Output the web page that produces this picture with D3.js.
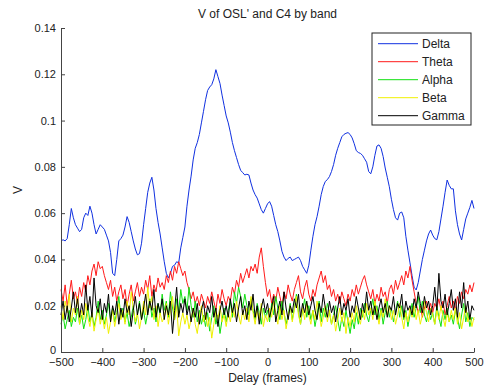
<!DOCTYPE html>
<html>
<head>
<meta charset="utf-8">
<script src="https://cdn.jsdelivr.net/npm/d3@7"></script>
<style>
  body { margin: 0; background: #fff; }
  text { font-family: "Liberation Sans", Arial, sans-serif; fill: #222; }
</style>
</head>
<body>
<svg id="chart"></svg>
<script>
// delay axis, one sample every 5 frames
const delays = d3.range(-500, 501, 5);

// values in thousandths of V
const deltaMilli = [
  48, 48.5, 48, 49, 55, 62, 58, 55, 53.5, 52,
  53, 58, 60, 59, 63, 60, 55, 51, 53, 55,
  54, 53, 50.5, 48, 43, 34, 33, 40, 48, 49,
  50.5, 54, 58.5, 56, 52, 48, 44.5, 42, 42.5, 47,
  55, 62, 69, 73, 75.5, 70, 62, 56, 51, 45,
  39, 34, 32, 34, 37, 37.5, 39, 38.5, 45, 49.5,
  54, 63, 70, 76, 83, 88, 90.5, 94, 99, 104,
  109, 113, 114.5, 115.5, 118, 122, 119, 116, 111, 106.5,
  102, 99, 95, 90.5, 87, 84, 81, 78.5, 77.5, 76.5,
  76.8, 76.5, 73, 70, 68, 66.5, 64, 61.5, 60, 62,
  64, 65, 63, 59, 55, 52, 48, 43.5, 41, 39.5,
  40.5, 41, 39.5, 40, 40.5, 41, 39.5, 37, 35.5, 34,
  37.5, 44, 50, 55, 58.5, 63, 68, 71.5, 73.7, 74.5,
  75.8, 78, 81, 85, 88, 90.5, 93, 94, 94.5, 94.8,
  94, 92.5, 90, 87, 86.2, 85.8, 85, 83.5, 82, 78,
  77, 80, 85, 89, 89.5, 88, 84.5, 79.5, 75.5, 71.4,
  66, 61.5, 58, 57, 60, 60.5, 58, 50, 44, 38.5,
  33, 28, 26.8, 30, 35, 40, 44, 48, 51, 52.7,
  50.5, 49, 48.5, 52, 57.5, 63, 69, 74.3, 72, 70.5,
  70.5, 61, 55, 51, 48.4, 53, 57.5, 60, 62.5, 65.5,
  62
];
const thetaMilli = [
  27, 22, 29, 20, 25, 31, 23, 26, 21, 28,
  24, 30, 26, 33, 29, 35, 38, 33, 39, 36,
  37, 33, 30, 27, 31, 24, 28, 22, 26, 29,
  23, 27, 20, 25, 29, 22, 26, 30, 24, 28,
  25, 31, 27, 33, 24, 29, 26, 32, 28, 30,
  27, 33, 30, 35, 31, 37, 34, 39, 36, 33,
  35, 30, 27, 23, 26, 21, 24, 20, 25, 22,
  19, 24, 21, 26, 22, 18, 25, 21, 27, 23,
  20, 24, 22, 28, 25, 31, 28, 34, 30, 33,
  36, 32, 37, 35, 38, 34, 41, 45, 37, 30,
  24, 27, 21, 25, 22, 28, 24, 20, 26, 23,
  29, 25, 22, 27, 30, 33, 26, 23, 28, 31,
  25, 22, 27, 24, 29, 32, 35, 30, 33, 27,
  29, 24, 27, 22, 25, 21, 26, 23, 20, 25,
  22, 27, 24, 29, 25, 28, 31, 33, 29, 26,
  23, 27, 21, 25, 22, 28, 24, 26, 21, 27,
  29, 25, 31, 27, 30, 33, 29, 35, 32, 37,
  31, 26, 21, 17, 20, 15, 19, 22, 18, 21,
  17, 21, 19, 23, 18, 22, 16, 20, 24, 19,
  22, 18, 24, 21, 26, 23, 27, 25, 29, 26,
  30
];
const alphaMilli = [
  12, 16, 10, 14, 18, 11, 15, 13, 19, 12,
  16, 10, 14, 20, 13, 17, 11, 15, 22, 14,
  18, 12, 16, 21, 14, 19, 13, 17, 24, 15,
  19, 13, 17, 11, 15, 20, 12, 16, 22, 14,
  18, 12, 17, 23, 15, 19, 13, 21, 16, 25,
  18, 22, 15, 26, 19, 14, 23, 17, 27, 21,
  24, 18, 28, 20, 15, 22, 13, 18, 12, 16,
  11, 17, 9, 15, 20, 12, 16, 8, 14, 19,
  13, 18, 22, 15, 26, 21, 28, 24, 19, 25,
  20, 16, 23, 18, 14, 21, 17, 12, 19, 15,
  18, 13, 21, 16, 24, 19, 14, 22, 17, 12,
  16, 21, 14, 19, 25, 17, 12, 18, 23, 15,
  20, 14, 18, 11, 16, 22, 13, 19, 15, 21,
  17, 12, 16, 20, 14, 9, 15, 11, 18, 13,
  8, 14, 10, 17, 12, 19, 15, 21, 16, 13,
  18, 23, 16, 20, 14, 19, 12, 17, 22, 15,
  19, 13, 17, 22, 15, 20, 14, 18, 11, 16,
  21, 15, 19, 24, 17, 22, 16, 13, 18, 14,
  17, 12, 20, 15, 11, 18, 14, 19, 13, 16,
  12, 18, 15, 10, 16, 21, 13, 17, 11, 15,
  14
];
const betaMilli = [
  20, 14, 22, 17, 25, 13, 19, 16, 24, 12,
  18, 14, 21, 15, 11, 17, 9, 14, 19, 12,
  16, 10, 15, 8, 13, 18, 11, 16, 21, 14,
  18, 12, 22, 16, 26, 19, 13, 17, 10, 15,
  22, 16, 28, 19, 24, 14, 20, 11, 17, 13,
  15, 21, 12, 18, 24, 14, 20, 7, 13, 17,
  12, 16, 10, 14, 19, 12, 8, 15, 20, 13,
  17, 11, 15, 6, 12, 18, 14, 20, 13, 16,
  11, 17, 13, 19, 15, 22, 16, 12, 18, 14,
  19, 13, 24, 17, 12, 18, 14, 21, 11, 16,
  13, 19, 15, 22, 17, 12, 20, 14, 18, 10,
  15, 20, 13, 18, 24, 16, 12, 19, 14, 21,
  16, 12, 18, 14, 22, 17, 11, 15, 20, 13,
  18, 12, 16, 9, 14, 19, 13, 17, 8, 15,
  11, 17, 13, 20, 15, 12, 18, 14, 21, 16,
  19, 14, 22, 17, 12, 18, 15, 23, 16, 20,
  14, 18, 12, 16, 21, 15, 10, 17, 13, 19,
  15, 20, 14, 18, 12, 16, 22, 17, 13, 19,
  16, 12, 18, 14, 20, 15, 11, 17, 13, 18,
  14, 19, 12, 17, 10, 15, 20, 13, 16, 11,
  15
];
const gammaMilli = [
  16, 22, 14, 20, 13, 19, 26, 17, 23, 15,
  21, 16, 29, 18, 24, 15, 32, 20, 17, 23,
  14, 21, 17, 25, 13, 20, 16, 22, 12, 19,
  15, 23, 17, 20, 11, 18, 24, 16, 21, 14,
  19, 25, 16, 22, 18, 27, 15, 21, 17, 23,
  14, 20, 16, 22, 8, 18, 28, 15, 21, 17,
  23, 16, 20, 13, 19, 15, 21, 12, 18, 22,
  14, 20, 17, 24, 15, 19, 11, 18, 22, 16,
  20, 15, 23, 17, 21, 13, 19, 24, 16, 20,
  14, 22, 18, 25, 15, 20, 12, 19, 23, 17,
  21, 15, 19, 24, 13, 18, 22, 16, 26, 19,
  14, 20, 17, 23, 19, 25, 15, 21, 17, 22,
  16, 20, 24, 18, 14, 21, 17, 25, 19, 15,
  22, 17, 20, 13, 19, 24, 16, 21, 18, 23,
  15, 20, 17, 24, 19, 14, 21, 17, 26, 18,
  22, 16, 20, 14, 19, 23, 17, 21, 15, 20,
  18, 24, 16, 21, 19, 25, 15, 22, 18, 20,
  16, 23, 19, 26, 21, 17, 24, 19, 22, 16,
  20, 28, 18, 34, 22, 19, 25, 16, 21, 27,
  18, 23, 15, 26, 19, 30, 17, 22, 14, 20,
  18
];

const bandNames = ['Delta', 'Theta', 'Alpha', 'Beta', 'Gamma'];
const bandColors = ['#1030e0', '#ff1a1a', '#10e010', '#f0f000', '#000000'];
const bandValues = [deltaMilli, thetaMilli, alphaMilli, betaMilli, gammaMilli];

const xTicks = d3.range(-500, 501, 100);
const yTicks = [0, 0.02, 0.04, 0.06, 0.08, 0.1, 0.12, 0.14];

const W = 487, H = 385;
const margin = { top: 28, right: 13, bottom: 33, left: 61 };
const width = W - margin.left - margin.right;
const height = H - margin.top - margin.bottom;

const svg = d3.select('#chart').attr('width', W).attr('height', H);
const g = svg.append('g').attr('transform', `translate(${margin.left},${margin.top})`);

const x = d3.scaleLinear().domain([-500, 500]).range([0, width]);
const y = d3.scaleLinear().domain([0, 0.14]).range([height, 0]);

// series, drawn in plot order so gamma ends on top
const line = d3.line().x(d => x(d[0])).y(d => y(d[1]));
bandValues.forEach((vals, i) => {
  g.append('path')
    .datum(delays.map((d, j) => [d, vals[j] / 1000]))
    .attr('fill', 'none')
    .attr('stroke', bandColors[i])
    .attr('stroke-width', 1)
    .attr('d', line);
});

// axes, ticks point inwards like matlab
const xAxis = g.append('g')
  .attr('transform', `translate(0,${height})`)
  .call(d3.axisBottom(x).tickValues(xTicks).tickSizeInner(-4).tickSizeOuter(0).tickPadding(6));
const yAxis = g.append('g')
  .call(d3.axisLeft(y).tickValues(yTicks).tickSizeInner(-4).tickSizeOuter(0).tickPadding(5)
    .tickFormat(d => String(+d.toFixed(2))));
[xAxis, yAxis].forEach(a => {
  a.selectAll('path, line').attr('stroke', '#444');
  a.selectAll('text').style('font-size', '11px').attr('fill', '#222');
});
// the 0 label sits a little above the axis line in the original
yAxis.selectAll('.tick').filter(d => d === 0).select('text').attr('dy', '0.1em');

// titles
svg.append('text')
  .attr('x', margin.left + width / 2).attr('y', 18)
  .attr('text-anchor', 'middle').style('font-size', '12px')
  .text("V of OSL' and C4 by band");
svg.append('text')
  .attr('x', margin.left + width / 2).attr('y', 382)
  .attr('text-anchor', 'middle').style('font-size', '12px')
  .text('Delay (frames)');
svg.append('text')
  .attr('transform', `translate(22,${margin.top + height / 2}) rotate(-90)`)
  .attr('text-anchor', 'middle').style('font-size', '12px')
  .text('V');

// legend
const legend = svg.append('g').attr('transform', 'translate(372,33)');
legend.append('rect')
  .attr('width', 99).attr('height', 92)
  .attr('fill', '#fff').attr('stroke', '#222');
bandNames.forEach((name, i) => {
  const ly = 10.7 + i * 18;
  legend.append('line')
    .attr('x1', 6).attr('x2', 46).attr('y1', ly).attr('y2', ly)
    .attr('stroke', bandColors[i]);
  legend.append('text')
    .attr('x', 50).attr('y', ly + 4).style('font-size', '12px')
    .text(name);
});
</script>
</body>
</html>
